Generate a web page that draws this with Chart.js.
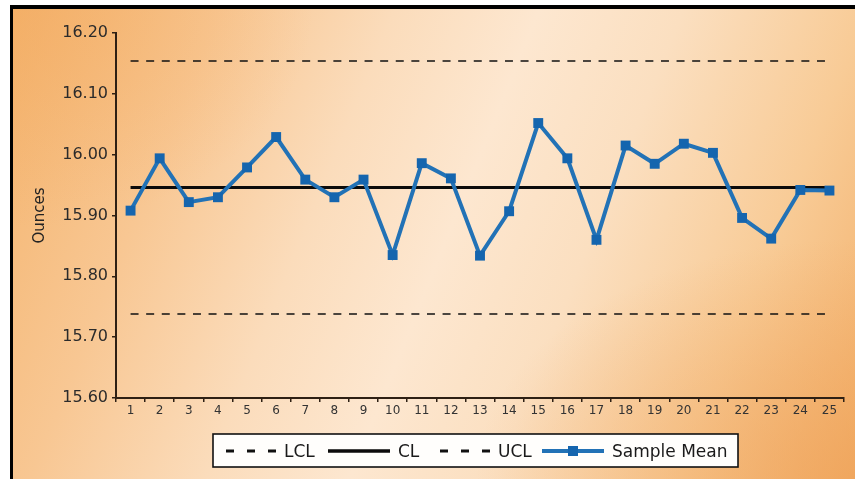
<!DOCTYPE html>
<html>
<head>
<meta charset="utf-8">
<script src="https://cdn.jsdelivr.net/npm/chart.js@4.4.1/dist/chart.umd.min.js"></script>
<style>
  html, body { margin: 0; padding: 0; background: #ffffff; }
  body { width: 855px; height: 479px; position: relative; overflow: hidden; }
  #frame {
    position: absolute; left: 10px; top: 5px; width: 845px; height: 474px;
    box-sizing: border-box;
    border-top: 4px solid #000; border-left: 3px solid #000;
    background:
      radial-gradient(ellipse 380px 240px at 100% 100%, rgba(238,160,86,0.6) 0%, rgba(238,160,86,0) 100%),
      radial-gradient(ellipse 300px 220px at 0% 0%, rgba(243,170,96,0.5) 0%, rgba(243,170,96,0) 100%),
      linear-gradient(112deg, #f4b46e 0%, #f8c793 20%, #fbdcbb 37%, #fde7d0 51%, #fbdfc0 65%, #f8cb96 83%, #f3b06a 100%);
  }
  #chart { position: absolute; left: 0; top: 0; }
</style>
</head>
<body>
<div id="frame"></div>
<canvas id="chart" width="855" height="479"></canvas>
<script>
// Subgroup numbers along the x axis
const samples = ['1','2','3','4','5','6','7','8','9','10','11','12','13',
                 '14','15','16','17','18','19','20','21','22','23','24','25'];

// Mean fill weight of each subgroup (ounces)
const sampleMean = [15.908, 15.994, 15.922, 15.930, 15.979, 16.029, 15.959, 15.930, 15.959,
                    15.835, 15.986, 15.961, 15.834, 15.907, 16.052, 15.994, 15.860, 16.015,
                    15.985, 16.018, 16.003, 15.896, 15.862, 15.942, 15.941];

// Control limits
const centerLine = 15.946;
const upperLimit = 16.154;
const lowerLimit = 15.738;

const lclValues = samples.map(() => lowerLimit);
const clValues  = samples.map(() => centerLine);
const uclValues = samples.map(() => upperLimit);

const yTicks = { min: 15.6, max: 16.2, step: 0.1 };

const FONT = 'DejaVu Sans';
const AXIS_COLOR = '#2e2014';

// Boxed legend drawn under the axis
const boxedLegend = {
  id: 'boxedLegend',
  afterDraw(chart, args, opts) {
    const ctx = chart.ctx;
    const box = opts.box;
    ctx.save();
    ctx.fillStyle = '#fffefc';
    ctx.fillRect(box.x, box.y, box.w, box.h);
    ctx.lineWidth = 1.6;
    ctx.strokeStyle = '#111';
    ctx.strokeRect(box.x, box.y, box.w, box.h);

    const lineY = box.y + box.h / 2 + 0.5;
    ctx.font = opts.fontSize + 'px "' + FONT + '"';
    ctx.textBaseline = 'middle';
    ctx.textAlign = 'left';

    opts.items.forEach(item => {
      const ds = chart.data.datasets[item.dataset];
      ctx.save();
      ctx.strokeStyle = ds.borderColor;
      ctx.lineWidth = item.lineWidth;
      ctx.setLineDash(item.dash || []);
      ctx.beginPath();
      ctx.moveTo(item.x, lineY);
      ctx.lineTo(item.x + item.w, lineY);
      ctx.stroke();
      ctx.restore();
      if (item.marker) {
        const s = item.marker;
        ctx.fillStyle = ds.pointBackgroundColor;
        ctx.fillRect(item.x + item.w / 2 - s / 2, lineY - s / 2, s, s);
      }
      ctx.fillStyle = '#1a1a1a';
      ctx.fillText(ds.label, item.x + item.w + 8, lineY + 1.5);
    });
    ctx.restore();
  }
};

new Chart(document.getElementById('chart'), {
  type: 'line',
  data: {
    labels: samples,
    datasets: [
      { label: 'LCL', data: lclValues, borderColor: '#111', borderWidth: 1.6,
        borderDash: [8, 7.6], pointRadius: 0, order: 1 },
      { label: 'CL', data: clValues, borderColor: '#0b0b0b', borderWidth: 3.2,
        pointRadius: 0, order: 1 },
      { label: 'UCL', data: uclValues, borderColor: '#111', borderWidth: 1.6,
        borderDash: [8, 7.6], pointRadius: 0, order: 1 },
      { label: 'Sample Mean', data: sampleMean, borderColor: '#2272b6', borderWidth: 4,
        pointStyle: 'rect', pointRadius: 7, pointBorderWidth: 0,
        pointBackgroundColor: '#1565ae', pointBorderColor: '#1565ae',
        tension: 0, order: 0 }
    ]
  },
  options: {
    responsive: false,
    animation: false,
    devicePixelRatio: 1,
    layout: { padding: { left: 0, top: 33, right: 11, bottom: 51 } },
    plugins: {
      legend: { display: false },
      tooltip: { enabled: false },
      boxedLegend: {
        box: { x: 213, y: 434, w: 525, h: 33 },
        fontSize: 17,
        items: [
          { dataset: 0, x: 226, w: 50, lineWidth: 3, dash: [8, 13] },
          { dataset: 1, x: 328, w: 62, lineWidth: 3.6 },
          { dataset: 2, x: 440, w: 50, lineWidth: 3, dash: [8, 13] },
          { dataset: 3, x: 542, w: 62, lineWidth: 4, marker: 10 }
        ]
      }
    },
    scales: {
      x: {
        type: 'category',
        offset: true,
        afterFit: scale => { scale.height = 30; },
        grid: { display: true, offset: true, drawOnChartArea: false, drawTicks: true,
                tickLength: 4, color: AXIS_COLOR, lineWidth: 1.5 },
        border: { display: true, color: AXIS_COLOR, width: 2 },
        ticks: { autoSkip: false, maxRotation: 0, padding: 2, color: '#333',
                 font: { family: FONT, size: 12 } }
      },
      y: {
        min: yTicks.min,
        max: yTicks.max,
        afterFit: scale => { scale.width = 116; },
        grid: { display: true, drawOnChartArea: false, drawTicks: true,
                tickLength: 4, color: AXIS_COLOR, lineWidth: 1.5 },
        border: { display: true, color: AXIS_COLOR, width: 2 },
        ticks: { stepSize: yTicks.step, padding: 4, color: '#2b2b2b',
                 font: { family: FONT, size: 16 },
                 callback: v => Number(v).toFixed(2) },
        title: { display: true, text: 'Ounces', color: '#222',
                 font: { family: FONT, size: 15 }, padding: { top: 31, bottom: 0 } }
      }
    }
  },
  plugins: [boxedLegend]
});
</script>
</body>
</html>
